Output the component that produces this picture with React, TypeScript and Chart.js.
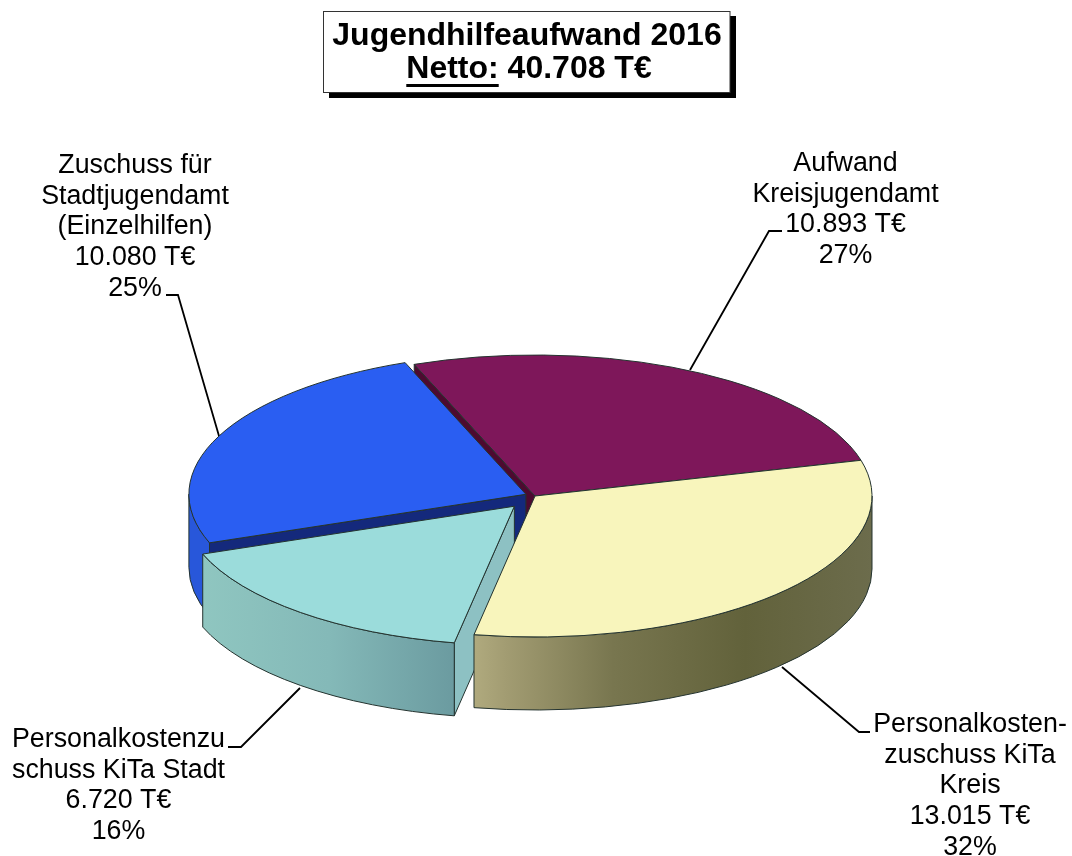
import React, { useEffect, useRef } from "react";
import { Chart, registerables } from "chart.js";

Chart.register(...registerables);

const categories = ["Aufwand Kreisjugendamt", "Personalkostenzuschuss KiTa Kreis", "Personalkostenzuschuss KiTa Stadt", "Zuschuss für Stadtjugendamt (Einzelhilfen)"];
const values = [10893, 13015, 6720, 10080];
const percents = ["27%", "32%", "16%", "25%"];
const valueLabels = ["10.893 T€", "13.015 T€", "6.720 T€", "10.080 T€"];
const nameLines = [
  ["Aufwand", "Kreisjugendamt"],
  ["Personalkosten-", "zuschuss KiTa", "Kreis"],
  ["Personalkostenzu", "schuss KiTa Stadt"],
  ["Zuschuss für", "Stadtjugendamt", "(Einzelhilfen)"],
];
const titleLine = "Jugendhilfeaufwand 2016";
const titleUnderlined = "Netto:";
const titleRest = " 40.708 T€";

const topColors = ["#7e175a", "#f8f5bc", "#9bdcdb", "#2a5ef2"];
const offsets = [0, 0, 32, 10];
const radiusScale = [1, 1, 0.985, 1];
const drawOrder = [0, 3, 2, 1];
const labelAnchors = [
  { x: 845.5, y: 171 },
  { x: 970, y: 732 },
  { x: 118.5, y: 747 },
  { x: 135, y: 173 },
];
const leaders = [
  [[782, 231], [769, 231], [690, 370]],
  [[870, 732], [859, 732], [782, 667]],
  [[228, 747], [241, 747], [300, 688]],
  [[166, 295], [178, 295], [219, 436]],
];

const RADIUS = 337;
const SQUASH = 141 / 337;
const DEPTH = 73;
const LINE = "#24332f";
const FONT = '"Liberation Sans", Arial, sans-serif';

// The rim is only visible where the ellipse runs along its front half.
function frontSpans(s: number, e: number) {
  const out: [number, number][] = [];
  for (const k of [-1, 0, 1]) {
    const lo = Math.max(s, 2 * Math.PI * k);
    const hi = Math.min(e, Math.PI + 2 * Math.PI * k);
    if (hi > lo) out.push([lo, hi]);
  }
  return out;
}

function wallFill(ctx: CanvasRenderingContext2D, i: number, x0: number, x1: number) {
  if (i === 1) {
    const g = ctx.createLinearGradient(x0, 0, x1, 0);
    g.addColorStop(0, "#b0aa7e");
    g.addColorStop(0.08, "#a29c72");
    g.addColorStop(0.35, "#78764f");
    g.addColorStop(0.68, "#62623b");
    g.addColorStop(1, "#6c6c4c");
    return g;
  }
  if (i === 2) {
    const g = ctx.createLinearGradient(x0, 0, x1, 0);
    g.addColorStop(0, "#8fc6c0");
    g.addColorStop(0.5, "#84b9b8");
    g.addColorStop(1, "#6b9ba0");
    return g;
  }
  return "#2857da";
}

// Which radial edge of each slice shows a flat cut face, and in which colour.
const cutFaceEdge = ["start", null, "start", "start"];
const cutWallColors = ["#4d0a30", "#6a6a42", "#8dc1c3", "#14297c"];

const pie3d = {
  id: "pie3d",
  beforeDatasetsDraw(chart: any) {
    const ctx: CanvasRenderingContext2D = chart.ctx;
    const arcs = chart.getDatasetMeta(0).data;

    ctx.save();
    ctx.strokeStyle = "#000";
    ctx.lineWidth = 1.8;
    for (const pts of leaders) {
      ctx.beginPath();
      pts.forEach((p, n) => (n ? ctx.lineTo(p[0], p[1]) : ctx.moveTo(p[0], p[1])));
      ctx.stroke();
    }
    ctx.restore();

    for (const i of drawOrder) {
      const el = arcs[i];
      const s: number = el.startAngle;
      const e: number = el.endAngle;
      const mid = (s + e) / 2;
      const off: number = el.options.offset || 0;
      const cx = el.x + Math.cos(mid) * off;
      const cy = el.y + Math.sin(mid) * off * SQUASH;
      const rx = el.outerRadius * radiusScale[i];
      const ry = rx * SQUASH;
      const px = (a: number) => cx + Math.cos(a) * rx;
      const py = (a: number) => cy + Math.sin(a) * ry;

      ctx.save();
      ctx.lineWidth = 1;
      ctx.lineJoin = "round";
      ctx.strokeStyle = LINE;

      if (cutFaceEdge[i]) {
        ctx.beginPath();
        ctx.moveTo(cx, cy);
        ctx.lineTo(px(s), py(s));
        ctx.lineTo(px(s), py(s) + DEPTH);
        ctx.lineTo(cx, cy + DEPTH);
        ctx.closePath();
        ctx.fillStyle = cutWallColors[i];
        ctx.fill();
        ctx.stroke();
      }

      for (const [lo, hi] of frontSpans(s, e)) {
        ctx.beginPath();
        ctx.ellipse(cx, cy, rx, ry, 0, lo, hi);
        ctx.ellipse(cx, cy + DEPTH, rx, ry, 0, hi, lo, true);
        ctx.closePath();
        ctx.fillStyle = wallFill(ctx, i, Math.min(px(lo), px(hi)), Math.max(px(lo), px(hi)));
        ctx.fill();
        ctx.stroke();
      }

      ctx.beginPath();
      ctx.moveTo(cx, cy);
      ctx.ellipse(cx, cy, rx, ry, 0, s, e);
      ctx.closePath();
      ctx.fillStyle = el.options.backgroundColor;
      ctx.fill();
      ctx.stroke();
      ctx.restore();
    }
    return false;
  },
  afterDraw(chart: any) {
    const ctx: CanvasRenderingContext2D = chart.ctx;
    ctx.save();

    ctx.fillStyle = "#000";
    ctx.fillRect(329, 16, 407, 82);
    ctx.fillStyle = "#fff";
    ctx.fillRect(323.5, 11.5, 406.5, 81);
    ctx.strokeStyle = "#333";
    ctx.lineWidth = 1;
    ctx.strokeRect(323.5, 11.5, 406.5, 81);

    ctx.fillStyle = "#000";
    ctx.font = `bold 32px ${FONT}`;
    ctx.textBaseline = "alphabetic";
    ctx.textAlign = "center";
    ctx.fillText(titleLine, 527, 45);
    ctx.textAlign = "left";
    const w1 = ctx.measureText(titleUnderlined).width;
    const w2 = ctx.measureText(titleRest).width;
    const x0 = 529 - (w1 + w2) / 2;
    ctx.fillText(titleUnderlined, x0, 78);
    ctx.fillText(titleRest, x0 + w1, 78);
    ctx.fillRect(x0, 84, w1, 3);

    ctx.font = `26.8px ${FONT}`;
    ctx.textAlign = "center";
    categories.forEach((_, i) => {
      const lines = [...nameLines[i], valueLabels[i], percents[i]];
      lines.forEach((t, n) => {
        ctx.fillText(t, labelAnchors[i].x, labelAnchors[i].y + n * 30.7);
      });
    });
    ctx.restore();
  },
};

export default function App() {
  const ref = useRef<HTMLCanvasElement>(null);
  useEffect(() => {
    if (!ref.current) return;
    const chart = new Chart(ref.current, {
      type: "pie",
      data: {
        labels: categories,
        datasets: [
          {
            data: values,
            backgroundColor: topColors,
            offset: offsets,
            radius: RADIUS,
            borderWidth: 0,
          } as any,
        ],
      },
      options: {
        responsive: false,
        animation: false,
        rotation: -21,
        layout: { padding: { left: 0, right: 2, top: 136, bottom: 0 } },
        plugins: { legend: { display: false }, tooltip: { enabled: false }, title: { display: false } },
      },
      plugins: [pie3d],
    } as any);
    return () => chart.destroy();
  }, []);
  return (
    <div style={{ position: "absolute", left: 0, top: 0, width: 1072, height: 856, background: "#fff" }}>
      <canvas ref={ref} width={1072} height={856} style={{ display: "block" }} />
    </div>
  );
}
